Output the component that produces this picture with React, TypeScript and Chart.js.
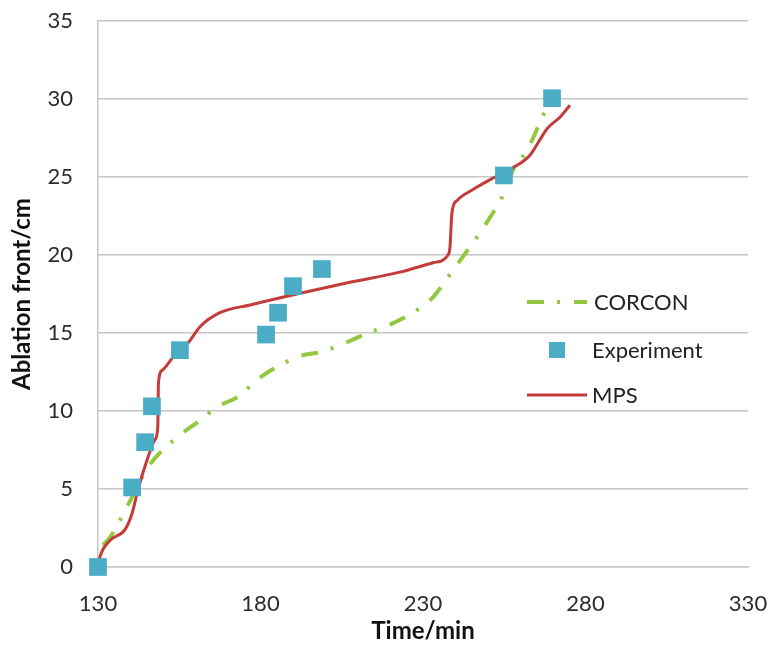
import React, { useEffect, useRef } from "react";
import { Chart, registerables } from "chart.js";

Chart.register(...registerables);

// ---- data ----
const corconTime = [131.5, 133.7, 138.9, 145.4, 153.1, 161.4, 166.6, 173.7, 178.9, 191.2, 199.8, 213.1, 220.5, 226.9, 233.1, 237.4, 242.3, 246.6, 250.6, 254.3, 257.7, 262.0, 266.0, 268.5];
const corconFront = [1.4, 1.9, 3.85, 6.4, 8.1, 9.4, 10.25, 11.0, 12.0, 13.45, 13.85, 15.0, 15.6, 16.3, 17.3, 18.5, 19.9, 21.15, 22.4, 23.7, 25.45, 26.7, 28.5, 29.7];

const expTime = [130, 140.5, 144.5, 146.6, 155.2, 181.7, 185.4, 190.0, 198.9, 254.9, 269.7];
const expFront = [0, 5.1, 8.0, 10.3, 13.9, 14.9, 16.3, 18.0, 19.1, 25.1, 30.05];

const mpsTime = [130, 130.6, 133.7, 138.3, 140.5, 142.3, 145.4, 147.5, 148.4, 148.6, 149.7, 153.1, 157.7, 161.4, 167.5, 176.8, 192.2, 207.5, 222.9, 233.1, 237.7, 238.3, 238.9, 240.5, 245.4, 252.2, 257.7, 262.9, 266.0, 268.2, 272.2, 275.2];
const mpsFront = [0, 0.65, 1.7, 2.4, 3.45, 4.95, 7.05, 8.15, 9.0, 11.8, 12.6, 13.45, 14.35, 15.4, 16.3, 16.8, 17.55, 18.25, 18.9, 19.5, 20.0, 20.5, 22.7, 23.5, 24.2, 25.0, 25.6, 26.4, 27.4, 28.1, 28.85, 29.6];

const xTicks = [130, 180, 230, 280, 330];
const yTicks = [0, 5, 10, 15, 20, 25, 30, 35];

const seriesLabels = ["CORCON", "Experiment", "MPS"];

const GREEN = "#92C83E";
const BLUE = "#4BACC6";
const RED = "#C43C39";
const GRID = "#C6C6C6";
const FONT = "Lato, 'Open Sans', 'DejaVu Sans', sans-serif";

const toPoints = (xs: number[], ys: number[]) => xs.map((x, i) => ({ x, y: ys[i] }));

const legendPlugin = {
  id: "customLegend",
  afterDraw(chart: any) {
    const ctx = chart.ctx as CanvasRenderingContext2D;
    const rows = [302, 350, 395];
    const x0 = 527;
    const x1 = 587;
    ctx.save();
    ctx.font = `22px ${FONT}`;
    ctx.fillStyle = "#222";
    ctx.textBaseline = "middle";
    ctx.textAlign = "left";
    // CORCON
    ctx.strokeStyle = GREEN;
    ctx.lineWidth = 4;
    ctx.setLineDash([17, 13, 3, 14]);
    ctx.beginPath();
    ctx.moveTo(x0, rows[0]);
    ctx.lineTo(x1, rows[0]);
    ctx.stroke();
    ctx.setLineDash([]);
    ctx.fillText(seriesLabels[0], 594, rows[0] + 1);
    // Experiment
    ctx.fillStyle = BLUE;
    ctx.fillRect(557 - 8, rows[1] - 8, 16, 16);
    ctx.fillStyle = "#222";
    ctx.fillText(seriesLabels[1], 592, rows[1] + 1);
    // MPS
    ctx.strokeStyle = RED;
    ctx.lineWidth = 3;
    ctx.beginPath();
    ctx.moveTo(x0, rows[2]);
    ctx.lineTo(x1, rows[2]);
    ctx.stroke();
    ctx.fillText(seriesLabels[2], 592, rows[2] + 1);
    ctx.restore();
  },
};

export default function App() {
  const ref = useRef<HTMLCanvasElement | null>(null);

  useEffect(() => {
    document.body.style.margin = "0";
    if (!ref.current) return;
    const chart = new Chart(ref.current, {
      type: "scatter",
      data: {
        datasets: [
          {
            label: seriesLabels[1],
            data: toPoints(expTime, expFront),
            showLine: false,
            pointStyle: "rect",
            pointRadius: 12.5,
            pointHoverRadius: 12.5,
            backgroundColor: BLUE,
            borderColor: BLUE,
            borderWidth: 0,
            clip: false,
            order: 0,
          },
          {
            label: seriesLabels[2],
            data: toPoints(mpsTime, mpsFront),
            showLine: true,
            borderColor: RED,
            borderWidth: 3,
            pointRadius: 0,
            cubicInterpolationMode: "monotone",
            clip: false,
            order: 1,
          },
          {
            label: seriesLabels[0],
            data: toPoints(corconTime, corconFront),
            showLine: true,
            borderColor: GREEN,
            borderWidth: 4,
            borderDash: [17, 13, 3, 14],
            pointRadius: 0,
            cubicInterpolationMode: "monotone",
            clip: false,
            order: 2,
          },
        ],
      },
      options: {
        responsive: false,
        animation: false,
        devicePixelRatio: 1,
        layout: { padding: { top: 21, right: 25, left: 0, bottom: 0 } },
        plugins: {
          legend: { display: false },
          tooltip: { enabled: false },
        },
        scales: {
          x: {
            type: "linear",
            min: 130,
            max: 330,
            afterBuildTicks: (s: any) => {
              s.ticks = xTicks.map((v) => ({ value: v }));
            },
            afterFit: (s: any) => {
              s.height = 82;
              s.paddingLeft = 0;
              s.paddingRight = 0;
            },
            grid: { display: false, drawTicks: false },
            border: { display: true, color: GRID, width: 1.5 },
            ticks: {
              padding: 24,
              color: "#2b2b2b",
              font: { family: FONT, size: 22 },
              maxRotation: 0,
            },
            title: {
              display: true,
              text: "Time/min",
              color: "#111",
              font: { family: FONT, size: 24, weight: "bold" },
              padding: { top: 0, bottom: 3 },
            },
          },
          y: {
            type: "linear",
            min: 0,
            max: 35,
            afterBuildTicks: (s: any) => {
              s.ticks = yTicks.map((v) => ({ value: v }));
            },
            afterFit: (s: any) => {
              s.width = 98;
              s.paddingTop = 0;
              s.paddingBottom = 0;
            },
            grid: { display: true, color: GRID, lineWidth: 1.5, drawTicks: false },
            border: { display: true, color: GRID, width: 1.5 },
            ticks: {
              padding: 25,
              color: "#2b2b2b",
              font: { family: FONT, size: 22 },
            },
            title: {
              display: true,
              text: "Ablation front/cm",
              color: "#111",
              font: { family: FONT, size: 24, weight: "bold" },
              padding: { top: 8, bottom: 0 },
            },
          },
        },
      },
      plugins: [legendPlugin],
    });
    return () => chart.destroy();
  }, []);

  return (
    <div style={{ position: "absolute", left: 0, top: 0, width: 773, height: 649, background: "#fff" }}>
      <canvas ref={ref} width={773} height={649} style={{ display: "block" }} />
    </div>
  );
}
